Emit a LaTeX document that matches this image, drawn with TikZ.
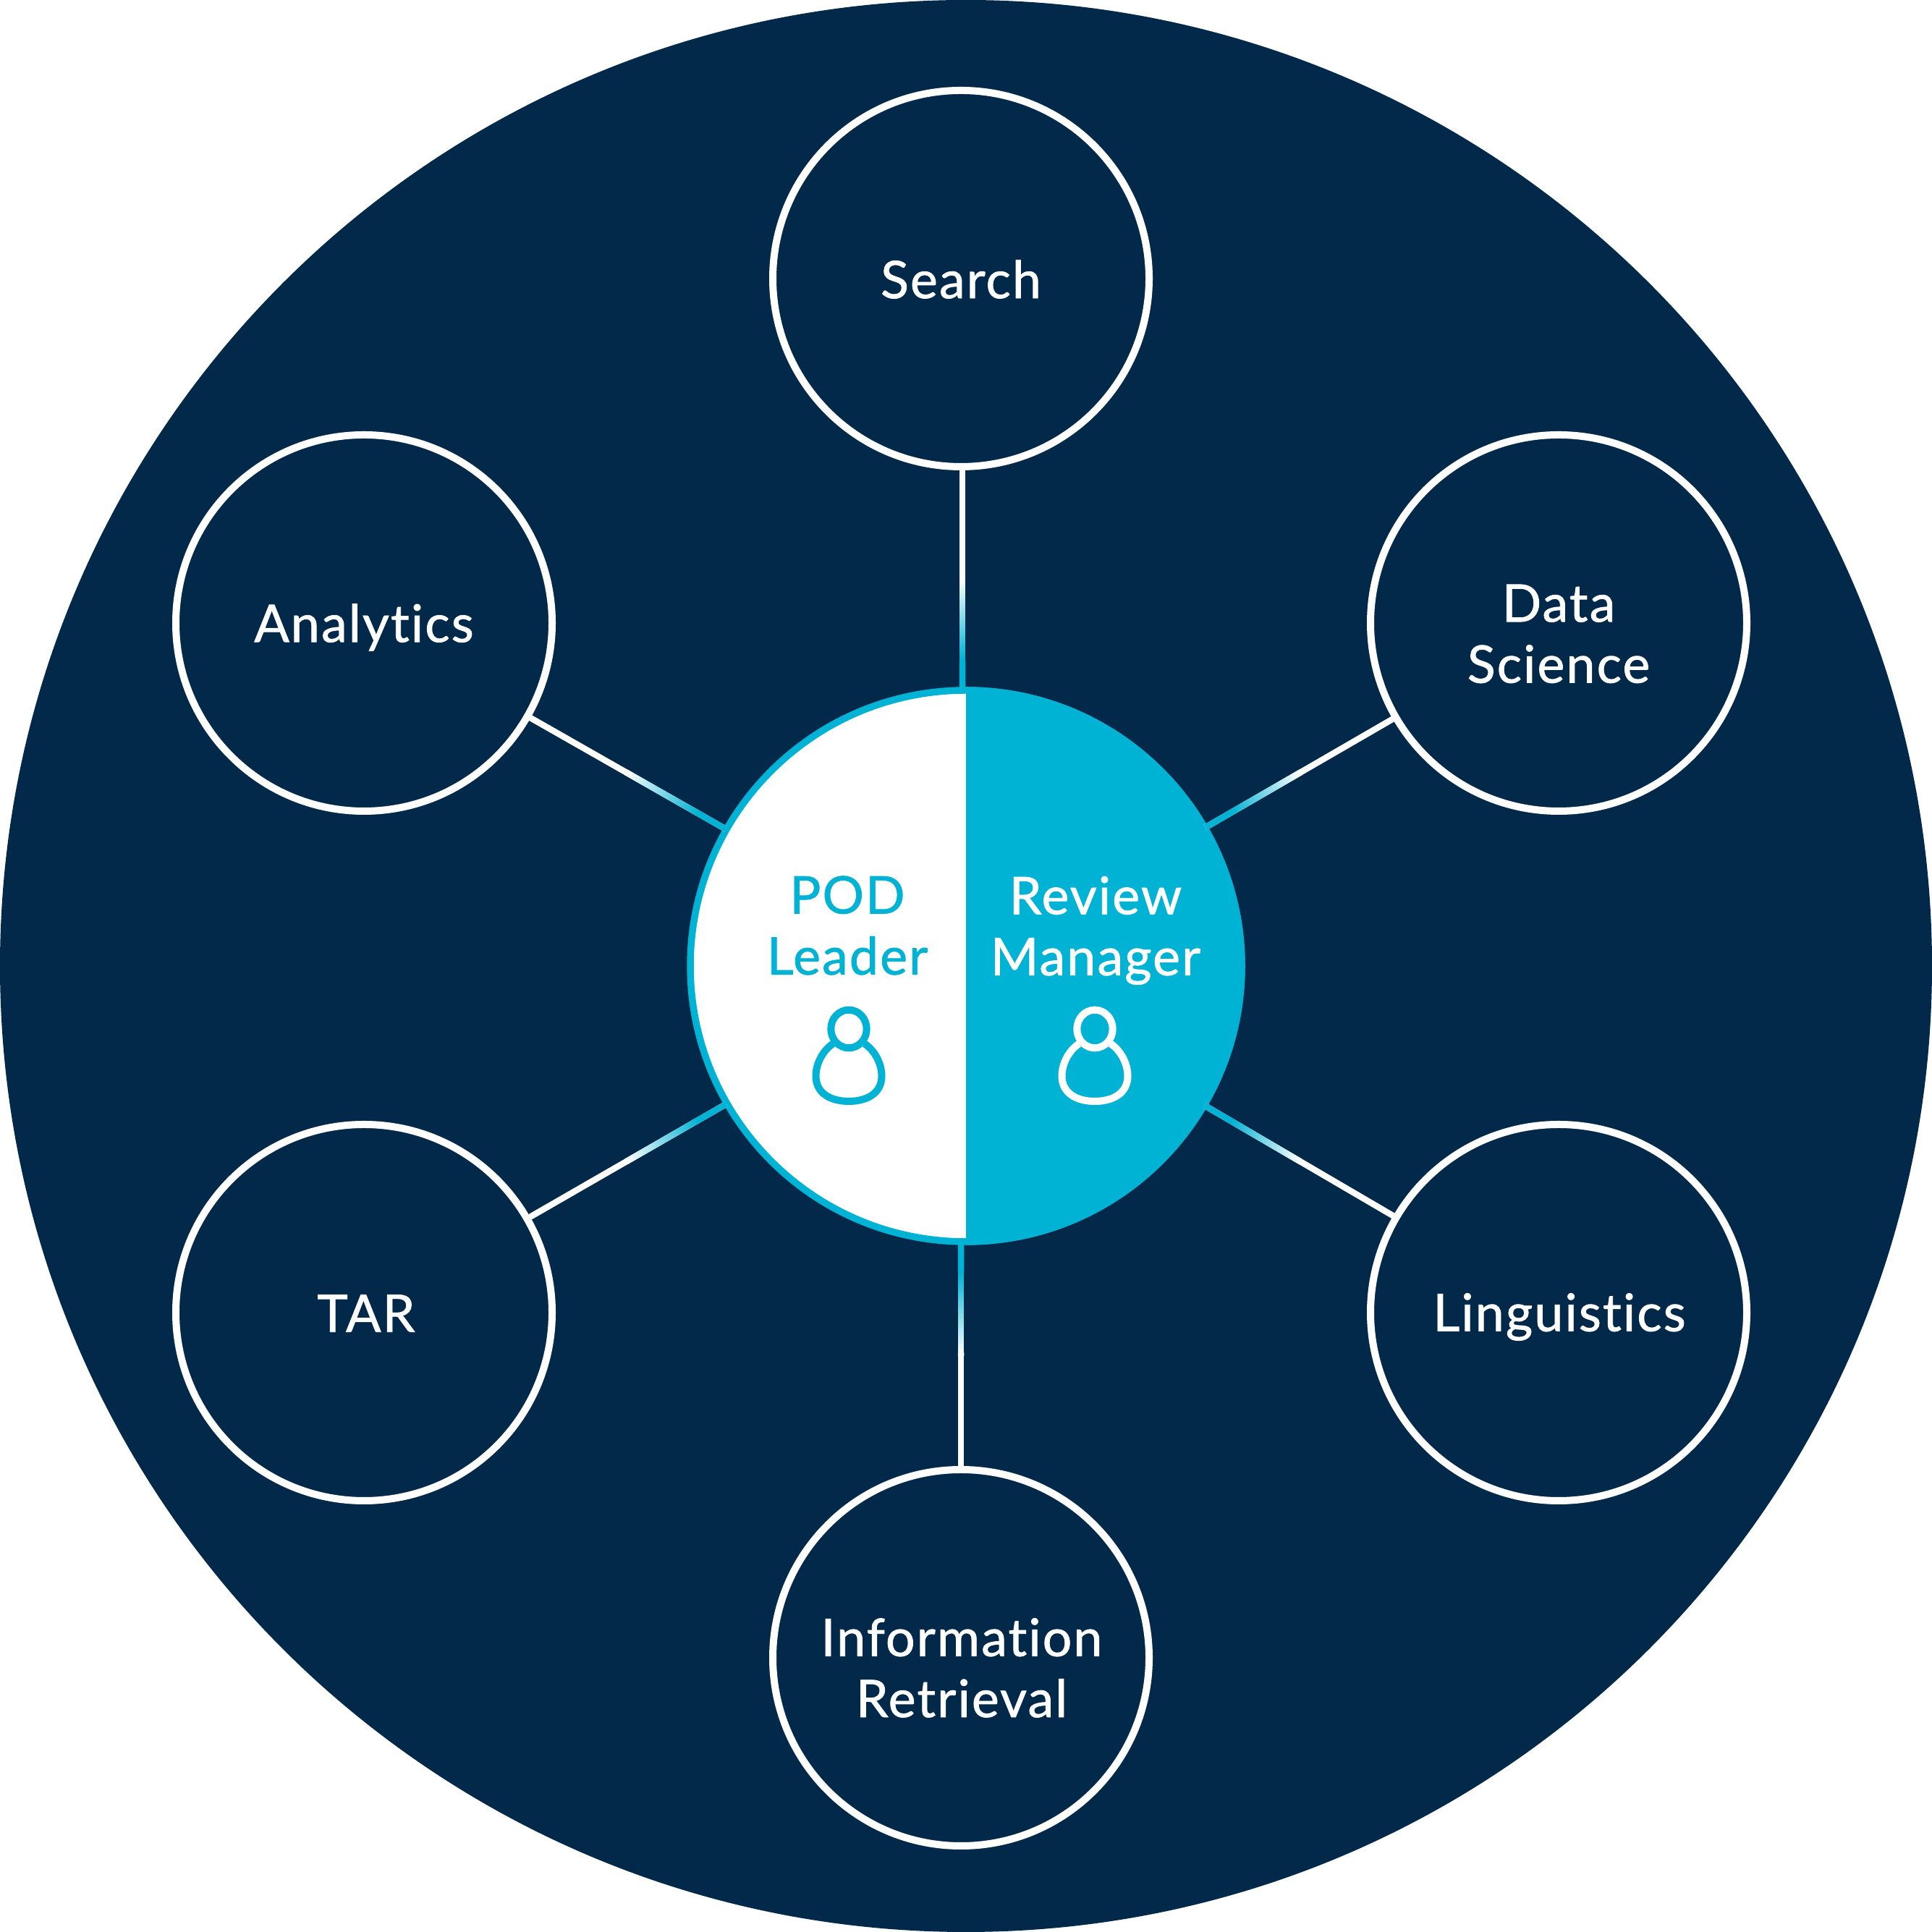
\documentclass[tikz,border=0pt]{standalone}
\usepackage{xcolor}
\usepackage{fontspec}
\setmainfont{Lato}[LetterSpace=3, Ligatures=NoCommon, FakeBold=1.1]
\usetikzlibrary{
  calc,
  shapes.geometric
}
\definecolor{podNavy}{HTML}{02294A}
\definecolor{podCyan}{HTML}{00B2D4}
\tikzset{
  ring/.style={draw=white, line width=1mm, circle, minimum size=52mm, inner sep=0pt},
  hub/.style={circle, draw=podCyan, fill=white, line width=0.95mm, minimum size=76.2mm, inner sep=0pt},
  fieldlabel/.style={font=\fontsize{20.4}{24}\selectfont, align=center, text=white, inner sep=0pt},
  spoke/.style={line width=0.85mm, white},
  person/.pic={
    \draw[line width=1mm, pic actions] (0,0) ellipse (2.47mm and 2.63mm);
    \draw[line width=1mm, pic actions] (-2.2mm,-2.05mm)
      .. controls (-3.6mm,-3mm) and (-4.55mm,-4.8mm) .. (-4.55mm,-6.5mm)
      .. controls (-4.55mm,-8.9mm) and (-2.5mm,-10mm) .. (0,-10mm)
      .. controls (2.5mm,-10mm) and (4.55mm,-8.9mm) .. (4.55mm,-6.5mm)
      .. controls (4.55mm,-4.8mm) and (3.6mm,-3mm) .. (2.2mm,-2.05mm);
  }
}
% white spoke that fades into cyan towards the hub
\newcommand{\fadespoke}[2]{
  \coordinate (sa) at (#1);
  \coordinate (sb) at (#2);
  \draw[spoke] (sa) -- (sb);
  \foreach \t in {0,...,29}{
    \pgfmathsetmacro{\mixval}{\t*100/29}
    \draw[line width=0.85mm, color=podCyan!\mixval!white]
      ($(sa)!{0.5+\t*0.0123}!(sb)$) -- ($(sa)!{0.5+(\t+1)*0.0123+0.002}!(sb)$);
  }
  \draw[line width=0.85mm, podCyan] ($(sa)!0.869!(sb)$) -- (sb);
}
\begin{document}
\begin{tikzpicture}
  \useasboundingbox (0,0) rectangle (267mm,267mm);
  \fill[podNavy] (133.5mm,133.5mm) circle (133.5mm);

  \node[hub] (hub) at (133.5mm,133.5mm) {};
  \fill[podCyan] (hub.north) arc (90:-90:38.57mm) -- cycle;

  \node[ring] (search) at (132.8mm,228.5mm) {};
  \node[ring] (analytics) at (50.3mm,180.9mm) {};
  \node[ring] (data) at (215.4mm,180.9mm) {};
  \node[ring] (tar) at (50.3mm,85.6mm) {};
  \node[ring] (ling) at (215.4mm,85.6mm) {};
  \node[ring] (info) at (132.8mm,37.9mm) {};

  \coordinate (hubtop) at (133mm,171.6mm);
  \coordinate (hubbot) at (132.8mm,95.4mm);
  \coordinate (searchbot) at (133mm,202.6mm);
  \coordinate (infotop) at (132.8mm,63.8mm);
  \fadespoke{searchbot}{hubtop}
  \fadespoke{infotop}{hubbot}
  \foreach \n in {analytics,data,tar,ling}{
    \fadespoke{$(\n)!25.8mm!(hub)$}{$(hub)!38.2mm!(\n)$}
  }

  \node[fieldlabel] (searchtxt) at (132.8mm,228.4mm) {Search};
  \node[fieldlabel] (analyticstxt) at (50.3mm,180.3mm) {Analytics};
  \node[fieldlabel] (datatxt) at (215.4mm,179.4mm) {Data\\Science};
  \node[fieldlabel] (tartxt) at (50.6mm,85.5mm) {TAR};
  \node[fieldlabel] (lingtxt) at (215.5mm,85mm) {Linguistics};
  \node[fieldlabel] (infotxt) at (132.9mm,36.5mm) {Information\\Retrieval};

  \node[fieldlabel, text=podCyan] (pod) at (117.1mm,139.1mm) {POD\\Leader};
  \node[fieldlabel] (review) at (151.4mm,138.4mm) {Review\\Manager};
  \pic[podCyan] at (117.3mm,124.8mm) {person};
  \pic[white] at (151.3mm,124.8mm) {person};
\end{tikzpicture}
\end{document}
